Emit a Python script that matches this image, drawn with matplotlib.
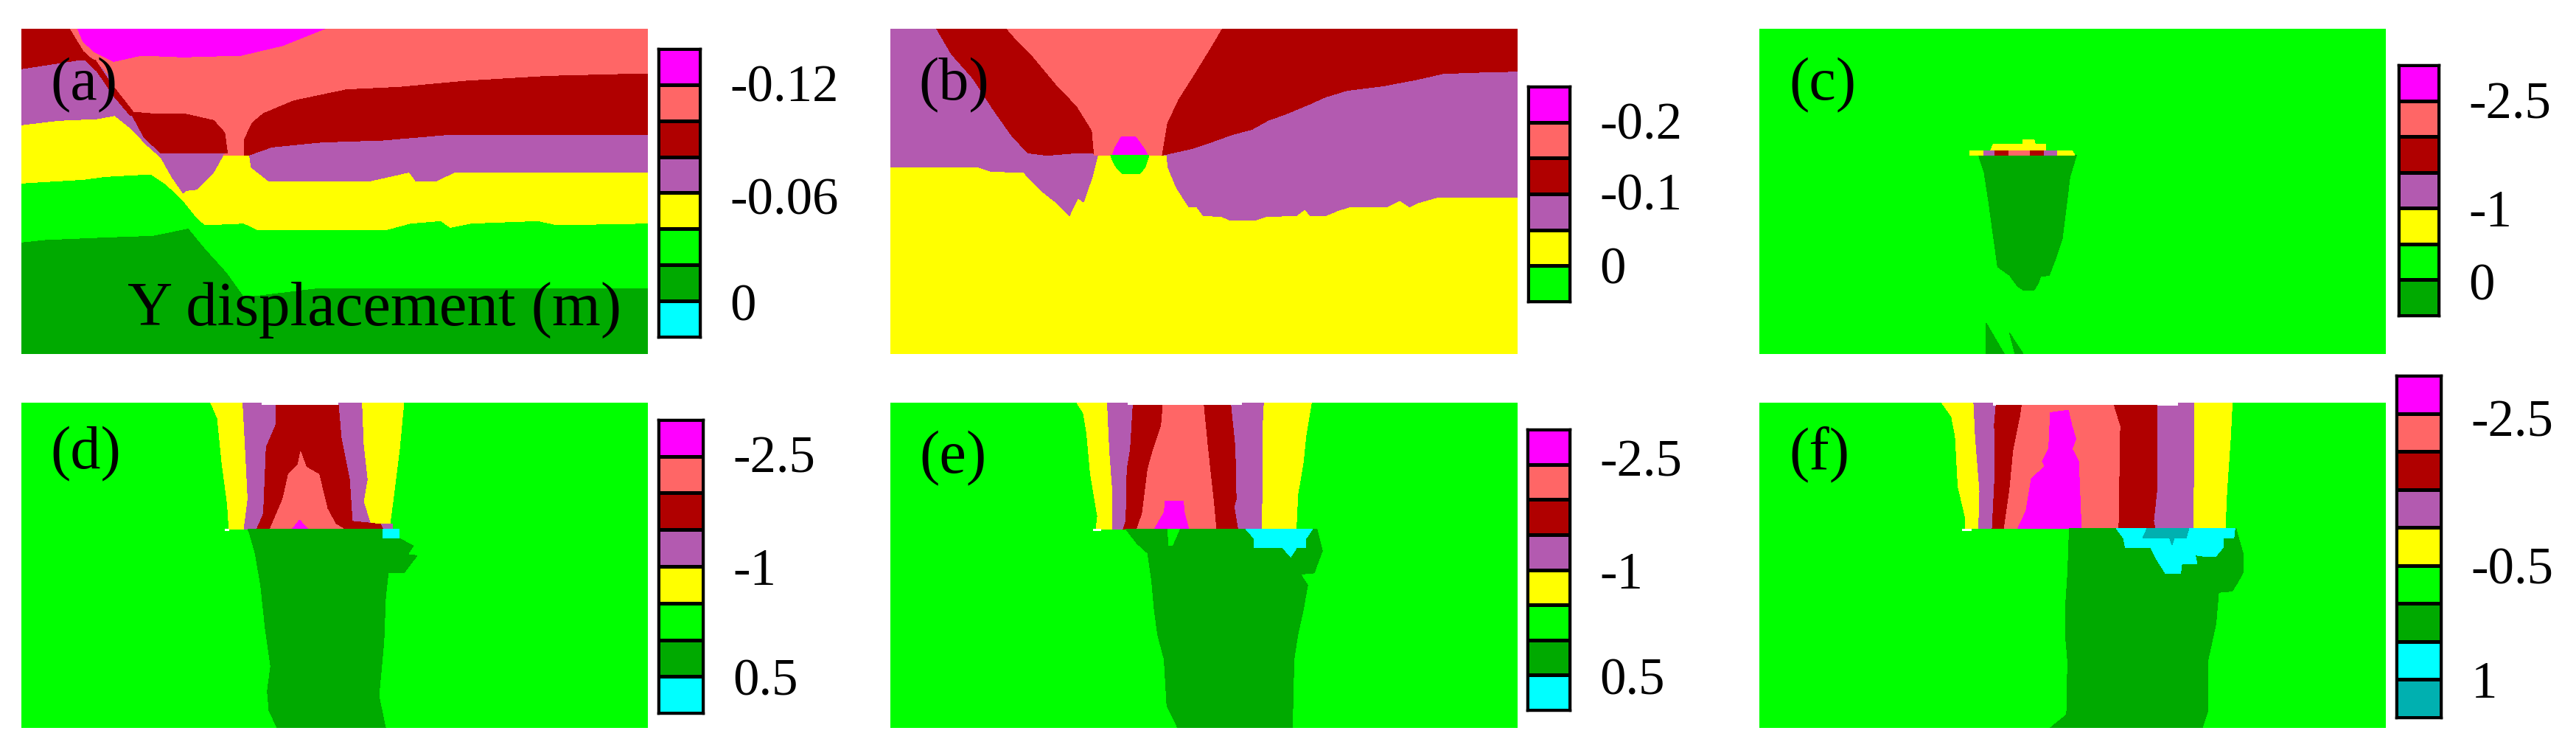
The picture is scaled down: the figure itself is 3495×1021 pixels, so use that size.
#!/usr/bin/env python3
"""Six panels of Y displacement contours with stepped colour bars."""

import matplotlib

matplotlib.use("Agg")
import matplotlib.pyplot as plt
import numpy as np
from matplotlib.colors import ListedColormap

W, H = 3495, 1021

MAGENTA = "#ff00ff"
PINK = "#ff6666"
RED = "#b00000"
PURPLE = "#b35ab0"
YELLOW = "#ffff00"
GREEN = "#00ff00"
DARK = "#00aa00"
CYAN = "#00ffff"
TEAL = "#00b0b0"
WHITE = "#ffffff"

plt.rcParams["font.family"] = ["Liberation Serif", "DejaVu Serif"]

# digitised contour regions, (x, y) in each panel's own grid, painted in order
a_green = [(38, 117), (1168, 117), (1168, 1172), (570, 1172), (450, 1205), (440, 1205), (410, 1110), (370, 1010),
           (340, 928), (275, 958), (185, 965), (80, 975), (38, 985)]
a_yellow = [(38, 117), (1168, 117), (1168, 908), (1005, 915), (970, 898), (850, 908), (812, 925), (795, 898),
            (740, 908), (695, 935), (465, 935), (440, 908), (370, 915), (355, 885), (330, 815), (300, 750),
            (272, 708), (190, 718), (150, 730), (38, 745)]
a_purple = [(38, 117), (1168, 117), (1168, 700), (820, 700), (785, 737), (750, 737), (738, 700), (665, 737),
            (485, 737), (453, 680), (450, 632), (402, 632), (385, 700), (355, 770), (335, 775), (330, 785),
            (310, 720), (290, 640), (265, 590), (235, 520), (207, 470), (175, 483), (105, 490), (38, 508)]
a_red_left = [(38, 117), (125, 117), (150, 210), (170, 250), (145, 243), (38, 280)]
a_red_sliver = [(150, 235), (172, 245), (200, 340), (245, 470), (235, 470), (205, 390), (175, 290)]
a_red_blob = [(235, 455), (270, 462), (330, 462), (385, 490), (405, 540), (410, 622), (290, 622), (260, 560)]
a_red_right = [(440, 632), (440, 570), (455, 500), (475, 462), (530, 410), (625, 365), (720, 355), (840, 330),
               (990, 310), (1168, 300), (1168, 547), (810, 547), (690, 570), (580, 578), (490, 598), (447, 632)]
a_pink = [(125, 117), (1168, 117), (1168, 300), (990, 310), (840, 330), (720, 355), (625, 365), (530, 410),
          (475, 462), (455, 500), (440, 570), (440, 632), (402, 632), (410, 622), (405, 540), (385, 490),
          (330, 462), (270, 462), (245, 470), (210, 400), (195, 300), (170, 240), (150, 210)]
a_magenta = [(140, 117), (585, 117), (510, 185), (435, 225), (330, 232), (255, 225), (205, 250), (170, 210),
             (150, 170)]

b_purple = [(38, 117), (1188, 117), (1188, 803), (1040, 803), (1005, 825), (990, 842), (972, 815), (950, 840),
            (880, 842), (860, 855), (835, 878), (808, 878), (798, 850), (782, 878), (728, 880), (705, 897),
            (662, 897), (645, 880), (612, 878), (600, 842), (585, 840), (563, 765), (547, 680), (545, 632),
            (418, 632), (408, 720), (392, 822), (382, 805), (366, 878), (340, 820), (320, 785), (303, 750),
            (282, 700), (260, 700), (222, 697), (200, 680), (38, 680)]
b_red = [(123, 117), (1188, 117), (1188, 290), (1100, 295), (1050, 300), (1000, 325), (940, 350), (875, 368),
         (835, 395), (805, 425), (765, 462), (730, 490), (700, 527), (665, 547), (630, 575), (590, 605),
         (555, 622), (535, 632), (412, 632), (410, 622), (368, 624), (325, 632), (290, 622), (260, 550),
         (225, 440), (190, 320), (150, 220)]
b_pink = [(252, 117), (645, 117), (620, 210), (595, 300), (565, 405), (545, 500), (535, 632), (412, 632),
          (408, 530), (380, 430), (345, 350), (300, 230), (265, 150)]
b_magenta = [(462, 555), (487, 555), (505, 610), (510, 632), (445, 632), (450, 600)]
b_green = [(442, 632), (512, 632), (505, 680), (495, 708), (465, 708), (452, 680), (445, 650)]

c_dark = [(468, 632), (648, 632), (636, 720), (630, 830), (622, 970), (610, 1050), (598, 1120), (582, 1125),
          (578, 1150), (570, 1180), (550, 1180), (540, 1165), (525, 1120), (503, 1085), (495, 960), (487, 830),
          (478, 700)]
c_dark_low1 = [(482, 1315), (515, 1440), (482, 1440)]
c_dark_low2 = [(525, 1355), (550, 1440), (535, 1440)]
c_yellow1 = [(452, 612), (490, 612), (495, 587), (550, 587), (550, 567), (570, 567), (572, 587), (592, 587),
             (592, 612), (640, 612), (645, 632), (452, 632)]
c_purple = [(477, 612), (613, 612), (613, 632), (477, 632)]
c_red = [(497, 612), (588, 612), (588, 632), (497, 632)]
c_pink = [(523, 612), (562, 612), (562, 632), (523, 632)]

d_yellow = [(380, 108), (728, 108), (720, 300), (710, 480), (703, 600), (708, 622), (413, 622), (410, 520),
            (400, 350), (392, 170)]
d_purple = [(438, 108), (652, 108), (655, 280), (662, 420), (655, 510), (668, 602), (708, 602), (708, 622),
            (440, 622), (447, 500), (443, 320)]
d_red = [(497, 118), (610, 118), (615, 250), (630, 420), (635, 590), (686, 602), (690, 622), (463, 622),
         (475, 560), (480, 290), (497, 200)]
d_pink = [(542, 308), (552, 370), (575, 400), (590, 540), (605, 602), (620, 622), (487, 622), (510, 500),
          (520, 400), (537, 360)]
d_magenta = [(540, 585), (555, 622), (527, 622)]
d_notch = [(472, 108), (610, 108), (610, 118), (472, 118)]
d_dark = [(447, 622), (690, 622), (690, 660), (720, 660), (745, 690), (735, 725), (752, 730), (738, 770),
          (728, 800), (700, 800), (695, 900), (692, 1080), (683, 1300), (695, 1430), (500, 1430), (485, 1360),
          (482, 1280), (488, 1180), (478, 1020), (470, 850), (460, 720), (450, 640)]
d_cyan = [(690, 622), (720, 622), (720, 660), (690, 660)]
d_dot = [(405, 622), (413, 622), (413, 631), (405, 631)]

e_yellow = [(380, 108), (810, 108), (800, 240), (795, 350), (785, 480), (782, 622), (415, 622), (418, 570),
            (405, 400), (398, 230), (392, 150)]
e_purple = [(436, 108), (722, 108), (720, 200), (720, 430), (718, 622), (445, 622), (445, 450), (440, 300)]
e_red = [(483, 118), (662, 118), (670, 290), (672, 500), (668, 530), (675, 622), (465, 622), (470, 590),
         (472, 380), (478, 300)]
e_pink = [(538, 118), (612, 118), (620, 300), (630, 500), (635, 622), (490, 622), (500, 560), (510, 380),
          (520, 300), (535, 200)]
e_magenta = [(542, 507), (575, 507), (577, 555), (585, 622), (522, 622), (540, 555)]
e_notch = [(473, 108), (683, 108), (683, 118), (473, 118)]
e_dark = [(470, 622), (820, 622), (830, 710), (815, 800), (790, 805), (803, 850), (795, 950), (785, 1050),
          (778, 1150), (775, 1430), (565, 1430), (545, 1340), (540, 1150), (528, 1050), (522, 950), (517, 830),
          (510, 720), (490, 680)]
e_sliver = [(547, 622), (568, 622), (555, 688), (548, 688)]
e_cyan = [(690, 622), (812, 622), (800, 660), (800, 697), (783, 697), (772, 735), (757, 697), (705, 697),
          (705, 660)]
e_dot = [(410, 622), (425, 622), (425, 631), (410, 631)]

f_yellow = [(400, 165), (935, 165), (932, 300), (925, 520), (922, 670), (443, 670), (443, 620), (430, 500),
            (425, 300), (418, 220)]
f_purple = [(459, 165), (865, 165), (863, 670), (468, 670), (470, 520), (462, 300)]
f_red = [(500, 175), (797, 175), (797, 500), (790, 640), (793, 670), (493, 670), (498, 450), (497, 250)]
f_pink = [(548, 175), (716, 175), (728, 260), (725, 670), (515, 670), (525, 520), (532, 360), (545, 220)]
f_magenta = [(600, 205), (633, 195), (640, 260), (647, 310), (640, 350), (652, 400), (657, 670), (540, 670),
             (555, 600), (565, 470), (590, 420), (585, 400), (597, 350)]
f_notch = [(495, 165), (835, 165), (835, 176), (495, 176)]
f_dark = [(635, 670), (942, 670), (955, 770), (955, 845), (945, 885), (935, 920), (910, 925), (905, 1050),
          (890, 1200), (890, 1400), (880, 1468), (600, 1468), (630, 1415), (632, 1200), (628, 1100), (628, 980),
          (632, 850)]
f_cyan = [(722, 670), (940, 670), (938, 708), (918, 708), (918, 745), (905, 780), (887, 782), (867, 775),
          (870, 810), (842, 812), (840, 848), (812, 848), (795, 790), (785, 745), (738, 745), (735, 708)]
f_teal = [(778, 670), (855, 670), (850, 708), (828, 708), (824, 735), (820, 708), (770, 708)]
f_dot = [(438, 670), (455, 670), (455, 680), (438, 680)]

panel_labels = ["(a)", "(b)", "(c)", "(d)", "(e)", "(f)"]

a_levels = [MAGENTA, PINK, RED, PURPLE, YELLOW, GREEN, DARK, CYAN]
b_levels = [MAGENTA, PINK, RED, PURPLE, YELLOW, GREEN]
c_levels = [MAGENTA, PINK, RED, PURPLE, YELLOW, GREEN, DARK]
d_levels = [MAGENTA, PINK, RED, PURPLE, YELLOW, GREEN, DARK, CYAN]
f_levels = [MAGENTA, PINK, RED, PURPLE, YELLOW, GREEN, DARK, CYAN, TEAL]

# tick places are counted in colour steps from the top of each bar
a_ticks, a_ticklabels = [0.96, 4.08, 7.02], ["-0.12", "-0.06", "0"]
b_ticks, b_ticklabels = [0.96, 2.93, 4.99], ["-0.2", "-0.1", "0"]
c_ticks, c_ticklabels = [0.97, 3.99, 6.04], ["-2.5", "-1", "0"]
d_ticks, d_ticklabels = [0.93, 4.01, 7.0], ["-2.5", "-1", "0.5"]
e_ticks, e_ticklabels = [0.80, 4.02, 7.03], ["-2.5", "-1", "0.5"]
f_ticks, f_ticklabels = [1.12, 4.99, 8.0], ["-2.5", "-0.5", "1"]

panels = [
    dict(base=DARK, regions=[(GREEN, a_green), (YELLOW, a_yellow), (PURPLE, a_purple), (PINK, a_pink),
                             (RED, a_red_left), (RED, a_red_sliver), (RED, a_red_blob), (RED, a_red_right),
                             (MAGENTA, a_magenta)],
         box=(28.6, 39, 879, 480), lim=(38, 1168, 117, 1440), tag=(151, 347),
         bar=(893, 66, 950, 457), levels=a_levels, ticks=a_ticks, ticklabels=a_ticklabels),
    dict(base=YELLOW, regions=[(PURPLE, b_purple), (RED, b_red), (PINK, b_pink), (MAGENTA, b_magenta),
                               (GREEN, b_green)],
         box=(1208, 39, 2059, 480), lim=(38, 1188, 117, 1440), tag=(155, 347),
         bar=(2073, 117, 2130, 409), levels=b_levels, ticks=b_ticks, ticklabels=b_ticklabels),
    dict(base=GREEN, regions=[(DARK, c_dark), (DARK, c_dark_low1), (DARK, c_dark_low2), (YELLOW, c_yellow1),
                              (PURPLE, c_purple), (RED, c_red), (PINK, c_pink)],
         box=(2387, 39, 3237, 480), lim=(64, 1218, 117, 1440), tag=(180, 347),
         bar=(3254, 88, 3309, 428), levels=c_levels, ticks=c_ticks, ticklabels=c_ticklabels),
    dict(base=GREEN, regions=[(YELLOW, d_yellow), (PURPLE, d_purple), (WHITE, d_notch), (RED, d_red),
                              (PINK, d_pink), (MAGENTA, d_magenta), (DARK, d_dark), (CYAN, d_cyan),
                              (WHITE, d_dot)],
         box=(28.6, 546, 879, 987), lim=(38, 1168, 108, 1430), tag=(155, 317),
         bar=(893, 569, 954, 967), levels=d_levels, ticks=d_ticks, ticklabels=d_ticklabels),
    dict(base=GREEN, regions=[(YELLOW, e_yellow), (PURPLE, e_purple), (WHITE, e_notch), (RED, e_red),
                              (PINK, e_pink), (MAGENTA, e_magenta), (DARK, e_dark), (GREEN, e_sliver),
                              (CYAN, e_cyan), (WHITE, e_dot)],
         box=(1208, 546, 2059, 987), lim=(38, 1188, 108, 1430), tag=(153, 335),
         bar=(2072, 582, 2130, 963), levels=d_levels, ticks=e_ticks, ticklabels=e_ticklabels),
    dict(base=GREEN, regions=[(YELLOW, f_yellow), (PURPLE, f_purple), (WHITE, f_notch), (RED, f_red),
                              (PINK, f_pink), (MAGENTA, f_magenta), (DARK, f_dark), (CYAN, f_cyan),
                              (TEAL, f_teal), (WHITE, f_dot)],
         box=(2387, 546, 3237, 987), lim=(64, 1218, 165, 1468), tag=(175, 372),
         bar=(3251, 509, 3312, 973), levels=f_levels, ticks=f_ticks, ticklabels=f_ticklabels),
]


def add_axes_px(fig, box):
    x0, y0, x1, y1 = box
    return fig.add_axes([x0 / W, 1 - y1 / H, (x1 - x0) / W, (y1 - y0) / H])


fig = plt.figure(figsize=(W / 100, H / 100), dpi=100)

for label, p in zip(panel_labels, panels):
    ax = add_axes_px(fig, p["box"])
    for colour, outline in p["regions"]:
        xs, ys = zip(*outline)
        ax.fill(xs, ys, color=colour, linewidth=0, antialiased=False)
    x0, x1, y0, y1 = p["lim"]
    ax.set_xlim(x0, x1)
    ax.set_ylim(y1, y0)
    ax.axis("off")
    ax.add_patch(plt.Rectangle((x0, y0), x1 - x0, y1 - y0, color=p["base"], zorder=0, linewidth=0))
    ax.text(*p["tag"], label, fontsize=59, ha="center", va="center", color="black")
    if label == "(a)":
        ax.text(675, 1262, "Y displacement (m)", fontsize=61, ha="center", va="center", color="black")

    cax = add_axes_px(fig, p["bar"])
    n = len(p["levels"])
    cax.pcolormesh([0, 1], np.arange(n + 1), np.arange(n)[:, None], cmap=ListedColormap(p["levels"]),
                   edgecolors="black", linewidth=2.5)
    cax.set_ylim(n, 0)
    cax.set_xticks([])
    cax.yaxis.tick_right()
    cax.set_yticks(p["ticks"], p["ticklabels"], fontsize=51)
    cax.tick_params(axis="y", length=0, pad=29)
    for spine in cax.spines.values():
        spine.set_linewidth(2.5)

fig.savefig("out.png", dpi=100, facecolor="white")
plt.close(fig)
